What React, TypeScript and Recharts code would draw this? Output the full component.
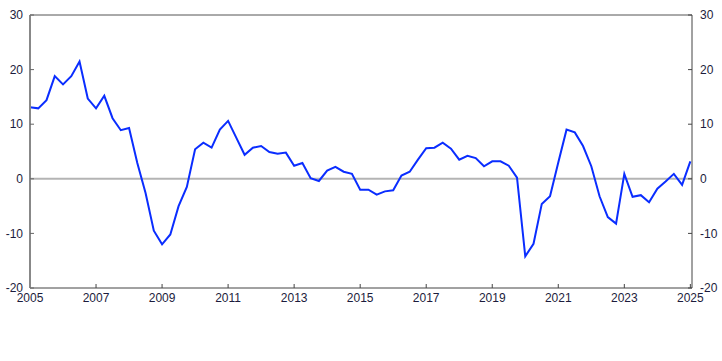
import { LineChart, Line, XAxis, YAxis, ReferenceLine } from "recharts";

// quarterly series, first point 2005 Q1
const startYear = 2005;
const values = [
  13.1, 12.9, 14.4, 18.8, 17.3, 18.8, 21.5, 14.7, 12.9, 15.2,
  11.1, 8.9, 9.3, 2.9, -2.6, -9.5, -12.0, -10.2, -5.0, -1.5,
  5.4, 6.6, 5.7, 9.0, 10.6, 7.5, 4.4, 5.7, 6.0, 4.9,
  4.6, 4.8, 2.4, 2.9, 0.1, -0.4, 1.5, 2.2, 1.3, 0.9,
  -2.0, -2.0, -2.9, -2.3, -2.1, 0.6, 1.3, 3.5, 5.6, 5.7,
  6.6, 5.5, 3.5, 4.2, 3.8, 2.3, 3.2, 3.2, 2.4, 0.2,
  -14.2, -11.9, -4.6, -3.2, 3.0, 9.0, 8.5, 6.0, 2.3, -3.2,
  -7.0, -8.2, 0.9, -3.3, -3.0, -4.3, -1.8, -0.5, 0.9, -1.1, 3.2,
];
const xTicks = [2005, 2007, 2009, 2011, 2013, 2015, 2017, 2019, 2021, 2023, 2025];
const yTicks = [-20, -10, 0, 10, 20, 30];

const data = values.map((v, i) => ({ t: startYear + i / 4, v }));

const tickStyle = { fill: "#1c1c3c", fontSize: 12, fontFamily: "Liberation Sans, Arial, sans-serif" };

export default function App() {
  return (
    <div style={{ position: "absolute", left: 0, top: 0, background: "#fff" }}>
      <LineChart width={722} height={361} data={data} margin={{ top: 15, right: 0, left: 0, bottom: 43 }}>
        <XAxis
          dataKey="t"
          type="number"
          domain={[2005, 2025.05]}
          ticks={xTicks}
          interval={0}
          height={30}
          stroke="#444"
          tick={tickStyle}
          tickSize={-4}
          tickMargin={9}
        />
        <YAxis
          yAxisId="left"
          domain={[-20, 30]}
          ticks={yTicks}
          interval={0}
          width={30}
          axisLine={{ stroke: "#888", strokeWidth: 2 }}
          tickLine={{ stroke: "#666" }}
          tick={tickStyle}
          tickSize={-4}
          tickMargin={11}
        />
        <YAxis
          yAxisId="right"
          orientation="right"
          domain={[-20, 30]}
          allowDataOverflow
          ticks={yTicks}
          interval={0}
          width={30}
          stroke="#444"
          tick={tickStyle}
          tickSize={-4}
          tickMargin={12}
        />
        <ReferenceLine yAxisId="right" y={30} stroke="#555" />
        <ReferenceLine yAxisId="left" y={0} stroke="#b4b4b4" strokeWidth={2} />
        <Line
          yAxisId="left"
          dataKey="v"
          stroke="#0a2dff"
          strokeWidth={2}
          dot={false}
          isAnimationActive={false}
        />
      </LineChart>
    </div>
  );
}
